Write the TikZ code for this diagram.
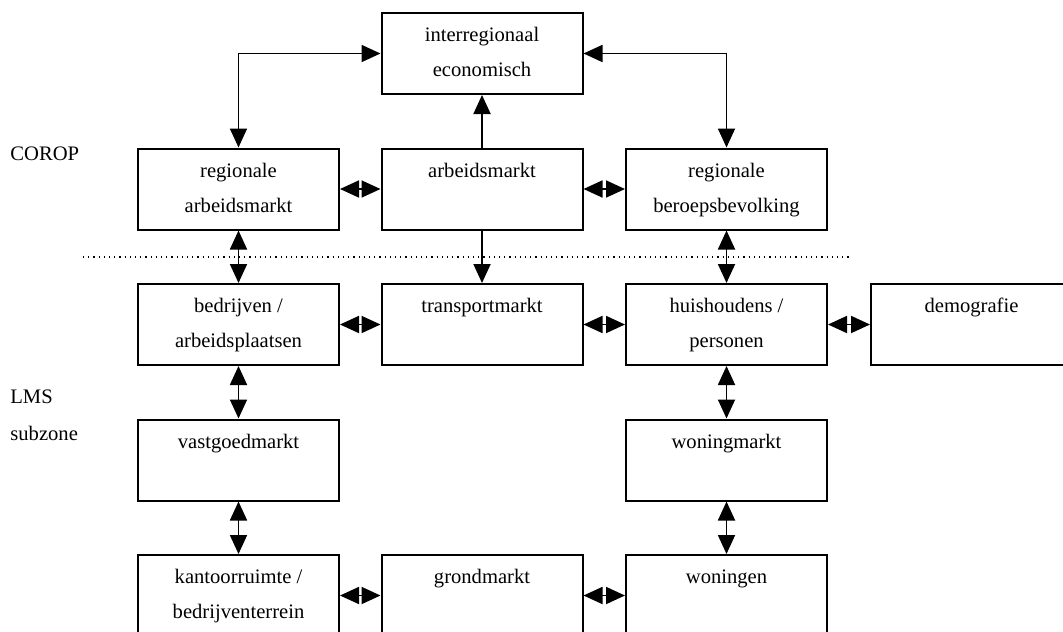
\documentclass[tikz,border=0pt]{standalone}
\usepackage{fontspec}
\setmainfont{Liberation Serif}
\usetikzlibrary{arrows.meta}
\newcommand\bxt[2]{\vbox to 40.5pt{\offinterlineskip\hsize=100.5pt
  \kern 14.3pt\hbox to \hsize{\hss\smash{#1}\hss}%
  \kern 17.5pt\hbox to \hsize{\hss\smash{#2}\hss}\vss}}
\tikzset{
  mbox/.style={draw, line width=1pt, inner sep=0pt, minimum width=100.5pt, minimum height=40.5pt},
  conn/.style={line width=0.9pt, {Triangle[length=9.5pt,width=8.5pt]}-{Triangle[length=9.5pt,width=8.5pt]}},
  oneway/.style={line width=0.9pt, -{Triangle[length=9.5pt,width=8.5pt]}},
  lvl/.style={inner sep=0pt, anchor=base west}
}
\begin{document}
\begin{tikzpicture}[x=0.5pt,y=-0.5pt,font=\fontsize{10.3}{17.5}\selectfont]
\clip (0,0) rectangle (1063,631);
\fill[white] (0,0) rectangle (1063,631);
% level labels
\node[lvl] (corop) at (10,160) {COROP};
\node[lvl] (lms) at (10,403) {LMS};
\node[lvl] (subz) at (10,440) {subzone};
% dotted separator
\coordinate (dl) at (83,257);
\coordinate (dr) at (850,257);
\draw[dotted, line width=0.6pt] (dl) -- (dr);
% boxes
\node[mbox] (ir) at (482,53.5) {\bxt{interregionaal}{economisch}};
\node[mbox] (ra) at (238.5,189) {\bxt{regionale}{arbeidsmarkt}};
\node[mbox] (am) at (482,189) {\bxt{arbeidsmarkt}{}};
\node[mbox] (rb) at (726.5,189) {\bxt{regionale}{beroepsbevolking}};
\node[mbox] (bd) at (238.5,324.5) {\bxt{bedrijven /}{arbeidsplaatsen}};
\node[mbox] (tm) at (482,324.5) {\bxt{transportmarkt}{}};
\node[mbox] (hh) at (726.5,324.5) {\bxt{huishoudens /}{personen}};
\node[mbox] (dm) at (971.5,324.5) {\bxt{demografie}{}};
\node[mbox] (vg) at (238.5,460) {\bxt{vastgoedmarkt}{}};
\node[mbox] (wm) at (726.5,460) {\bxt{woningmarkt}{}};
\node[mbox] (kr) at (238.5,595.5) {\bxt{kantoorruimte /}{bedrijventerrein}};
\node[mbox] (gm) at (482,595.5) {\bxt{grondmarkt}{}};
\node[mbox] (wn) at (726.5,595.5) {\bxt{woningen}{}};
% top connectors
\draw[conn] (ra.north) |- (ir.west);
\draw[conn] (rb.north) |- (ir.east);
\draw[oneway] (am.north) -- (ir.south);
\draw[oneway] (am.south) -- (tm.north);
% horizontal
\draw[conn] (ra.east) -- (am.west);
\draw[conn] (am.east) -- (rb.west);
\draw[conn] (bd.east) -- (tm.west);
\draw[conn] (tm.east) -- (hh.west);
\draw[conn] (hh.east) -- (dm.west);
\draw[conn] (kr.east) -- (gm.west);
\draw[conn] (gm.east) -- (wn.west);
% vertical
\draw[conn] (ra.south) -- (bd.north);
\draw[conn] (rb.south) -- (hh.north);
\draw[conn] (bd.south) -- (vg.north);
\draw[conn] (vg.south) -- (kr.north);
\draw[conn] (hh.south) -- (wm.north);
\draw[conn] (wm.south) -- (wn.north);
\end{tikzpicture}
\end{document}
